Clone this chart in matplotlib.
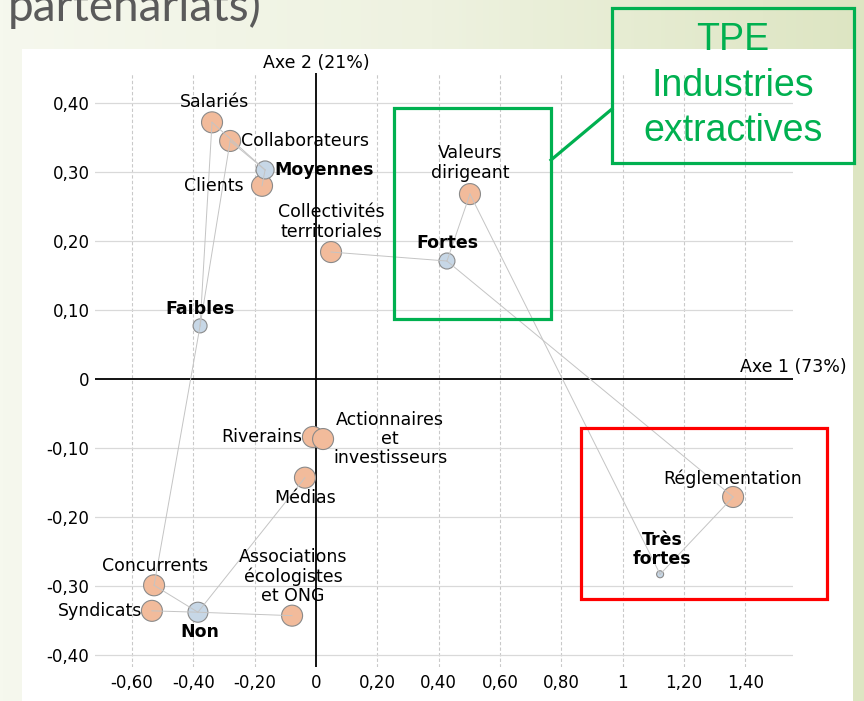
import numpy as np
import matplotlib
matplotlib.use('Agg')
import matplotlib.pyplot as plt
from matplotlib.patches import Rectangle
from matplotlib.ticker import FuncFormatter
from matplotlib.colors import LinearSegmentedColormap

# stakeholder points (orange)
actors = ['Salariés', 'Collaborateurs', 'Clients', 'Collectivités\nterritoriales',
          'Valeurs\ndirigeant', 'Riverains', 'Actionnaires\net\ninvestisseurs',
          'Médias', 'Concurrents', 'Syndicats', 'Associations\nécologistes\net ONG',
          'Réglementation']
actors_x = [-0.339, -0.280, -0.176, 0.049, 0.502, -0.010, 0.023, -0.036, -0.528, -0.535, -0.078, 1.360]
actors_y = [0.372, 0.345, 0.280, 0.184, 0.268, -0.084, -0.087, -0.143, -0.299, -0.336, -0.343, -0.171]

# partnership intensity points (blue)
levels = ['Moyennes', 'Faibles', 'Fortes', 'Non', 'Très\nfortes']
levels_x = [-0.166, -0.378, 0.427, -0.385, 1.122]
levels_y = [0.303, 0.077, 0.171, -0.338, -0.283]

# links between points
links = [('Salariés', 'Moyennes'), ('Collaborateurs', 'Moyennes'), ('Clients', 'Moyennes'),
         ('Salariés', 'Faibles'), ('Collaborateurs', 'Faibles'), ('Concurrents', 'Faibles'),
         ('Collectivités\nterritoriales', 'Fortes'), ('Valeurs\ndirigeant', 'Fortes'),
         ('Valeurs\ndirigeant', 'Très\nfortes'), ('Réglementation', 'Fortes'),
         ('Réglementation', 'Très\nfortes'),
         ('Concurrents', 'Non'), ('Syndicats', 'Non'),
         ('Associations\nécologistes\net ONG', 'Non'), ('Médias', 'Non')]

x_ticks = [-0.6, -0.4, -0.2, 0, 0.2, 0.4, 0.6, 0.8, 1.0, 1.2, 1.4]
y_ticks = [-0.4, -0.3, -0.2, -0.1, 0, 0.1, 0.2, 0.3, 0.4]

# styles
actor_size = [21] * len(actors)
level_size = [18, 14, 16, 20, 7]
px = 0.72  # pixel -> point
label_pos = {
    'Salariés': (2, 20, 'center'), 'Collaborateurs': (11, 0, 'left'),
    'Clients': (-18, 0, 'right'), 'Collectivités\nterritoriales': (0, 30, 'center'),
    'Valeurs\ndirigeant': (0, 31, 'center'), 'Riverains': (-11, 0, 'right'),
    'Actionnaires\net\ninvestisseurs': (67, 0, 'center'), 'Médias': (0, -20, 'center'),
    'Concurrents': (1, 19, 'center'), 'Syndicats': (-10, 0, 'right'),
    'Associations\nécologistes\net ONG': (1, 39, 'center'), 'Réglementation': (0, 18, 'center'),
    'Moyennes': (9, 0, 'left'), 'Faibles': (0, 17, 'center'), 'Fortes': (0, 18, 'center'),
    'Non': (2, -20, 'center'), 'Très\nfortes': (2, 25, 'center'),
}
orange = '#f2bb9b'
blue = '#c7d7e6'

W, H = 864, 701
fig = plt.figure(figsize=(W / 100, H / 100), dpi=100)

# background slide
bg = fig.add_axes([0, 0, 1, 1], zorder=0)
cmap = LinearSegmentedColormap.from_list('bg', ['#f6f8ee', '#eef2e0', '#dde5c2'])
bg.imshow(np.linspace(0, 1, 256)[None, :], aspect='auto', cmap=cmap, extent=[0, W, H, 0])
bg.add_patch(Rectangle((22, 49), 831, 660, facecolor='white', edgecolor='none'))
bg.set_xlim(0, W)
bg.set_ylim(H, 0)
bg.axis('off')
bg.text(8, 21, 'partenariats)', fontsize=33, family='Lato',
        color='#5a5a5a', va='baseline', ha='left')

# chart
ax = fig.add_axes([95 / W, 1 - 667 / H, 698 / W, 594 / H], zorder=1)
ax.set_facecolor('none')
ax.set_xlim(-0.7206, 1.5553)
ax.set_ylim(-0.4174, 0.4435)
for s in ax.spines.values():
    s.set_visible(False)
ax.set_xticks(x_ticks)
ax.set_yticks(y_ticks)

def fmt(v, pos=None):
    if abs(v - round(v)) < 1e-9:
        return str(int(round(v)))
    return f'{v:.2f}'.replace('.', ',')

ax.xaxis.set_major_formatter(FuncFormatter(fmt))
ax.yaxis.set_major_formatter(FuncFormatter(fmt))
ax.tick_params(length=0, labelsize=12, pad=5)
ax.tick_params(axis='y', pad=4)
for x in x_ticks:
    if x != 0:
        ax.axvline(x, color='#c9c9c9', lw=0.8, ls=(0, (3, 2)), zorder=0)
for y in y_ticks:
    if y != 0:
        ax.axhline(y, color='#d9d9d9', lw=0.9, zorder=0)
ax.axhline(0, color='black', lw=1.3, zorder=1)
ax.axvline(0, color='black', lw=1.3, zorder=1)

ax.annotate('Axe 2 (21%)', xy=(0, 1), xycoords=('data', 'axes fraction'),
            xytext=(0, 1), textcoords='offset points', ha='center', va='bottom', fontsize=12.5)
ax.annotate('Axe 1 (73%)', xy=(1, 0), xycoords=('axes fraction', 'data'),
            xytext=(54 * px, 2), textcoords='offset points', ha='right', va='bottom', fontsize=12.5)

# points
ax.scatter(actors_x, actors_y, s=(np.array(actor_size) * px) ** 2, color=orange,
           edgecolor='#8a8a8a', linewidth=0.8, zorder=3)
ax.scatter(levels_x, levels_y, s=(np.array(level_size) * px) ** 2, color=blue,
           edgecolor='#8a8a8a', linewidth=0.8, zorder=3)

coords = dict(zip(actors + levels, zip(actors_x + levels_x, actors_y + levels_y)))
for a, b in links:
    (x0, y0), (x1, y1) = coords[a], coords[b]
    ax.plot([x0, x1], [y0, y1], color='#c4c4c4', lw=0.7, zorder=4)

for name in actors + levels:
    dx, dy, ha = label_pos[name]
    bold = name in levels
    ax.annotate(name, xy=coords[name], xytext=(dx * px, dy * px), textcoords='offset points',
                ha=ha, va='center', fontsize=12.5, linespacing=1.1, multialignment='center',
                fontweight='bold' if bold else 'normal', zorder=5)

# overlay boxes
ov = fig.add_axes([0, 0, 1, 1], zorder=3)
ov.set_xlim(0, W)
ov.set_ylim(H, 0)
ov.axis('off')
green = '#00b050'
ov.add_patch(Rectangle((394, 108), 157, 211, facecolor='none', edgecolor=green, lw=2.3))
ov.add_patch(Rectangle((612, 8), 242, 155, facecolor='none', edgecolor=green, lw=2.3))
ov.plot([551, 612], [160, 109], color=green, lw=2.3)
ov.add_patch(Rectangle((581, 428), 246, 171, facecolor='none', edgecolor='#ff0000', lw=2.3))
for txt, yy in zip(['TPE', 'Industries', 'extractives'], [40, 86, 131]):
    ov.text(733, yy, txt, color=green, fontsize=27, family='Liberation Sans',
            ha='center', va='center')

fig.savefig('out.png', dpi=100)
